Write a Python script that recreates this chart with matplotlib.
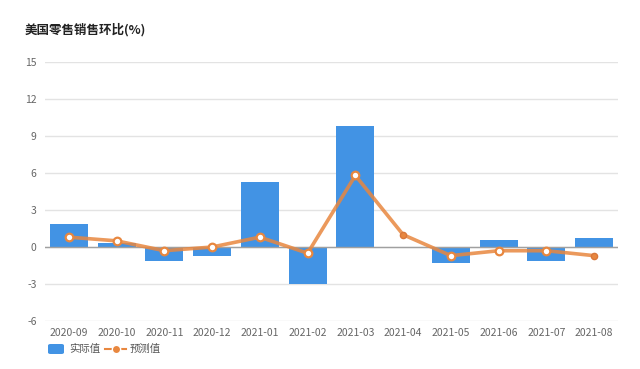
import numpy as np
import matplotlib
matplotlib.use("Agg")
import matplotlib.pyplot as plt
from matplotlib.patches import FancyBboxPatch
from matplotlib.lines import Line2D

plt.rcParams['font.family'] = ['Noto Sans CJK SC', 'DejaVu Sans']

categories = ["2020-09", "2020-10", "2020-11", "2020-12", "2021-01", "2021-02",
              "2021-03", "2021-04", "2021-05", "2021-06", "2021-07", "2021-08"]
actual = [1.9, 0.3, -1.1, -0.7, 5.3, -3.0, 9.8, np.nan, -1.3, 0.6, -1.1, 0.7]
forecast = [0.8, 0.5, -0.3, 0.0, 0.8, -0.5, 5.8, 1.0, -0.7, -0.3, -0.3, -0.7]
yticks = [-6, -3, 0, 3, 6, 9, 12, 15]
title = "美国零售销售环比(%)"
legend_labels = ["实际值", "预测值"]

bar_color = "#4293E4"
line_color = "#E8873F"

fig = plt.figure(figsize=(6.4, 3.69), dpi=100)
ax = fig.add_axes([0.0703, 0.130, 0.8953, 0.702])

x = np.arange(len(categories))
ax.bar(x, actual, width=0.8, color=bar_color, zorder=2)
ax.plot(x, forecast, color=line_color, lw=2.6, alpha=0.85, zorder=3,
        solid_capstyle='round', solid_joinstyle='round')
filled = [7, 11]
hollow = [i for i in range(len(x)) if i not in filled]
ax.scatter(x[hollow], np.array(forecast)[hollow], s=30, facecolor="white",
           edgecolor=line_color, linewidths=1.6, zorder=4)
ax.scatter(x[filled], np.array(forecast)[filled], s=20, facecolor=line_color,
           edgecolor="#d9773a", linewidths=1.0, zorder=4)

ax.set_xlim(-0.5, len(categories) - 0.5)
ax.set_ylim(-6, 15)
ax.set_yticks(yticks)
ax.set_yticklabels([str(v) for v in yticks])
ax.set_xticks(x)
ax.set_xticklabels(categories)
ax.grid(axis='y', color="#e3e3e3", lw=1.0, zorder=0)
ax.axhline(0, color="#a0a0a0", lw=1.0, zorder=2.5)
for s in ax.spines.values():
    s.set_visible(False)
ax.tick_params(axis='both', length=0, labelsize=7.5, labelcolor="#666666")
ax.tick_params(axis='y', pad=6)
ax.tick_params(axis='x', pad=5)

fig.text(25 / 640, 1 - 30 / 369, title, fontsize=9, fontweight='bold',
         color="#222222", va='center', ha='left')

# legend
ly = 1 - 349 / 369
box = FancyBboxPatch((48 / 640, ly - 5 / 369), 16 / 640, 10 / 369,
                     boxstyle="round,pad=0,rounding_size=0.004",
                     transform=fig.transFigure, facecolor=bar_color,
                     edgecolor='none')
fig.patches.append(box)
fig.text(69 / 640, ly, legend_labels[0], fontsize=7.5, color="#555555",
         va='center', ha='left')
fig.add_artist(Line2D([105 / 640, 126 / 640], [ly, ly], transform=fig.transFigure,
                      color=line_color, lw=1.5))
fig.add_artist(Line2D([115.5 / 640], [ly], transform=fig.transFigure,
                      marker='o', markersize=6, markerfacecolor=line_color,
                      markeredgecolor="white", markeredgewidth=1, color=line_color))
fig.text(130 / 640, ly, legend_labels[1], fontsize=7.5, color="#555555",
         va='center', ha='left')

fig.savefig("out.png", dpi=100, facecolor="white")
